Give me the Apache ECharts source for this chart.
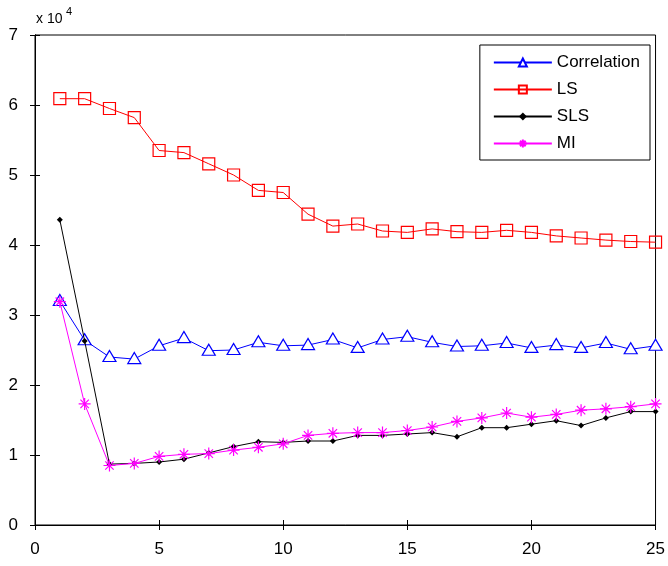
<!DOCTYPE html>
<html>
<head>
<meta charset="utf-8">
<script src="https://cdn.jsdelivr.net/npm/echarts@6/dist/echarts.min.js"></script>
<style>
    html, body { margin: 0; padding: 0; background: #fff; }
    #chart { width: 668px; height: 566px; }
</style>
</head>
<body>
<div id="chart"></div>
<script>
let xValues = [1, 2, 3, 4, 5, 6, 7, 8, 9, 10, 11, 12, 13, 14, 15, 16, 17, 18, 19, 20, 21, 22, 23, 24, 25];
let correlation = [32000, 26400, 24000, 23700, 25600, 26700, 24900, 25000, 26100, 25600, 25700, 26500, 25300, 26500, 26900, 26100,
    25500, 25600, 26000, 25300, 25700, 25300, 26000, 25100, 25600];
let ls = [60900, 60900, 59500, 58200, 53500, 53200, 51600, 50000, 47800, 47500, 44400, 42700, 43000, 42000, 41800, 42300,
    41900, 41800, 42100, 41800, 41300, 41000, 40700, 40500, 40400];
let sls = [43600, 26300, 8700, 8800, 9000, 9400, 10300, 11200, 11900, 11800, 12000, 12000, 12800, 12800, 13000, 13200,
    12600, 13900, 13900, 14400, 14900, 14200, 15300, 16200, 16200];
let mi = [31900, 17300, 8500, 8800, 9800, 10100, 10200, 10700, 11100, 11600, 12800, 13100, 13200, 13200, 13500, 14000,
    14800, 15300, 16000, 15400, 15800, 16400, 16600, 16900, 17300];
let yTicks = [0, 1, 2, 3, 4, 5, 6, 7];

function pairs(ys) {
    return xValues.map(function (x, i) { return [x, ys[i]]; });
}

let asterisk = 'path://M0,5 L10,5 M5,0 L5,10 M1.5,1.5 L8.5,8.5 M8.5,1.5 L1.5,8.5';
let font = 'Liberation Sans, Arial, sans-serif';

let chart = echarts.init(document.getElementById('chart'));
let option = {
    backgroundColor: '#fff',
    animation: false,
    textStyle: { fontFamily: font },
    grid: {
        left: 35,
        right: 9,
        top: 35,
        bottom: 41,
        show: true,
        borderColor: '#000',
        borderWidth: 1
    },
    graphic: [
        {
            type: 'text',
            left: 36,
            top: 12,
            style: { text: 'x 10', fontSize: 14, fill: '#000', fontFamily: font }
        },
        {
            type: 'text',
            left: 66,
            top: 6,
            style: { text: '4', fontSize: 11, fill: '#000', fontFamily: font }
        }
    ],
    legend: {
        orient: 'vertical',
        right: 18,
        top: 45,
        padding: [9, 10, 8, 13],
        itemWidth: 58,
        itemHeight: 10,
        itemGap: 10,
        borderColor: '#000',
        borderWidth: 1,
        backgroundColor: '#fff',
        textStyle: { fontSize: 17, color: '#000' },
        data: ['Correlation', 'LS', 'SLS', 'MI']
    },
    xAxis: [
        {
            type: 'value',
            min: 0,
            max: 25,
            interval: 5,
            splitLine: { show: false },
            axisLine: { lineStyle: { color: '#000' } },
            axisTick: { inside: true, length: 5, lineStyle: { color: '#000' } },
            axisLabel: { color: '#000', fontSize: 17, margin: 16 }
        },
        {
            type: 'value',
            position: 'top',
            min: 0,
            max: 25,
            interval: 5,
            splitLine: { show: false },
            axisLine: { lineStyle: { color: '#000' } },
            axisTick: { inside: true, length: 5, lineStyle: { color: '#000' } },
            axisLabel: { show: false }
        }
    ],
    yAxis: [
        {
            type: 'value',
            min: 0,
            max: 70000,
            interval: 10000,
            splitLine: { show: false },
            axisLine: { lineStyle: { color: '#000' } },
            axisTick: { inside: true, length: 5, lineStyle: { color: '#000' } },
            axisLabel: {
                color: '#000',
                fontSize: 17,
                margin: 17,
                formatter: function (v) { return String(yTicks[Math.round(v / 10000)]); }
            }
        },
        {
            type: 'value',
            position: 'right',
            min: 0,
            max: 70000,
            interval: 10000,
            splitLine: { show: false },
            axisLine: { lineStyle: { color: '#000' } },
            axisTick: { inside: true, length: 5, lineStyle: { color: '#000' } },
            axisLabel: { show: false }
        }
    ],
    series: [
        {
            name: 'Correlation',
            type: 'line',
            data: pairs(correlation),
            symbol: 'triangle',
            symbolSize: [13, 11],
            symbolOffset: [0, -1],
            lineStyle: { color: '#0000ff', width: 1 },
            itemStyle: { color: '#fff', borderColor: '#0000ff', borderWidth: 1.2 },
            z: 4
        },
        {
            name: 'LS',
            type: 'line',
            data: pairs(ls),
            symbol: 'rect',
            symbolSize: 12,
            lineStyle: { color: '#ff0000', width: 1 },
            itemStyle: { color: 'rgba(255,255,255,0)', borderColor: '#ff0000', borderWidth: 1.2 },
            z: 3
        },
        {
            name: 'SLS',
            type: 'line',
            data: pairs(sls),
            symbol: 'diamond',
            symbolSize: 6,
            lineStyle: { color: '#000', width: 1 },
            itemStyle: { color: '#000', borderColor: '#000', borderWidth: 0 },
            z: 5
        },
        {
            name: 'MI',
            type: 'line',
            data: pairs(mi),
            symbol: asterisk,
            symbolSize: 12,
            lineStyle: { color: '#ff00ff', width: 1 },
            itemStyle: { color: 'rgba(255,0,255,0)', borderColor: '#ff00ff', borderWidth: 1.2 },
            z: 6
        }
    ]
};
chart.setOption(option);
</script>
</body>
</html>
